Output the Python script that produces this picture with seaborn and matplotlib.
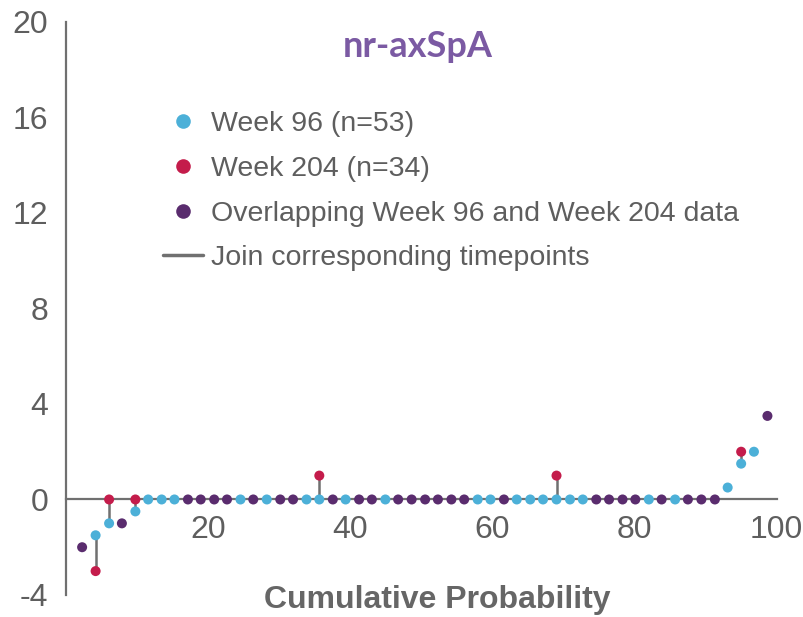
import numpy as np
import pandas as pd
import matplotlib
matplotlib.use("Agg")
import matplotlib.pyplot as plt
from matplotlib.lines import Line2D
import seaborn as sns

# Cumulative probability (%) of each ranked patient
cum_prob = [2.2, 4.1, 6.0, 7.8, 9.7, 11.5, 13.4, 15.2, 17.1, 18.9,
            20.8, 22.6, 24.5, 26.3, 28.2, 30.1, 31.9, 33.8, 35.6, 37.5,
            39.3, 41.2, 43.0, 44.9, 46.7, 48.6, 50.5, 52.3, 54.2, 56.0,
            57.9, 59.7, 61.6, 63.4, 65.3, 67.1, 69.0, 70.9, 72.7, 74.6,
            76.4, 78.3, 80.1, 82.0, 83.8, 85.7, 87.5, 89.4, 91.3, 93.1,
            95.0, 96.8, 98.7]

# Change from baseline at Week 96 (n=53)
week96 = [-2, -1.5, -1, -1, -0.5, 0, 0, 0, 0, 0,
          0, 0, 0, 0, 0, 0, 0, 0, 0, 0,
          0, 0, 0, 0, 0, 0, 0, 0, 0, 0,
          0, 0, 0, 0, 0, 0, 0, 0, 0, 0,
          0, 0, 0, 0, 0, 0, 0, 0, 0, 0.5,
          1.5, 2, 3.5]

# Change from baseline at Week 204 (n=34); NaN where not available
nan = np.nan
week204 = [-2, -3, 0, -1, 0, nan, nan, nan, 0, 0,
           0, 0, nan, 0, nan, 0, 0, nan, 1, 0,
           nan, 0, 0, nan, 0, 0, 0, 0, 0, 0,
           nan, nan, 0, nan, nan, nan, 1, nan, nan, 0,
           0, 0, 0, nan, 0, nan, 0, 0, 0, nan,
           2, nan, 3.5]

labels = ["Week 96 (n=53)", "Week 204 (n=34)",
          "Overlapping Week 96 and Week 204 data",
          "Join corresponding timepoints"]
colors = {"w96": "#4cb0d8", "w204": "#c41c4b", "both": "#5a2c6e"}
line_gray = "#707070"
text_gray = "#5e5e5e"

# Build a long table of plotted points
rows = []
for x, a, b in zip(cum_prob, week96, week204):
    if not np.isnan(b) and a == b:
        rows.append((x, a, "both"))
    else:
        rows.append((x, a, "w96"))
        if not np.isnan(b):
            rows.append((x, b, "w204"))
df = pd.DataFrame(rows, columns=["cum_prob", "change", "group"])

sns.set_style("white")
plt.rcParams["font.family"] = ["Liberation Sans", "DejaVu Sans"]
plt.rcParams["axes.unicode_minus"] = False

fig = plt.figure(figsize=(8.04, 6.17), dpi=100)
ax = fig.add_axes([0.0827, 0.0357, 0.8833, 0.9287])

# Vertical segments joining the two timepoints of the same patient
for x, a, b in zip(cum_prob, week96, week204):
    if not np.isnan(b) and a != b:
        ax.plot([x, x], [a, b], color=line_gray, lw=1.8, zorder=2,
                solid_capstyle="butt")

sns.scatterplot(data=df, x="cum_prob", y="change", hue="group",
                palette=colors, s=52, edgecolor="none", legend=False,
                zorder=3, ax=ax)

ax.set_xlim(0, 100)
ax.set_ylim(-4, 20)
ax.set_xticks([20, 40, 60, 80, 100])
ax.set_yticks([-4, 0, 4, 8, 12, 16, 20])
ax.set_xlabel("")
ax.set_ylabel("")

for side in ["top", "right"]:
    ax.spines[side].set_visible(False)
ax.spines["bottom"].set_position(("data", 0))
ax.spines["bottom"].set_bounds(0, 100)
ax.spines["left"].set_bounds(-4, 20)
for side in ["bottom", "left"]:
    ax.spines[side].set_color(line_gray)
    ax.spines[side].set_linewidth(1.6)
    ax.spines[side].set_zorder(1)

ax.tick_params(axis="x", direction="out", length=8, width=1.6,
               color=line_gray, labelsize=23, labelcolor=text_gray, pad=3)
ax.tick_params(axis="y", direction="out", length=7, width=1.6,
               color=line_gray, labelsize=23, labelcolor=text_gray, pad=6)
ax.set_facecolor("white")

fig.text(0.5435, 0.027, "Cumulative Probability", ha="center", va="center",
         fontsize=23, fontweight="bold", color="#666666")
fig.text(0.52, 0.925, "nr-axSpA", ha="center", va="center",
         fontsize=26, fontweight="bold", color="#7b5aa3",
         family=["Lato", "DejaVu Sans"])

handles = [
    Line2D([], [], ls="none", marker="o", ms=10.5, mec="none", color=colors["w96"]),
    Line2D([], [], ls="none", marker="o", ms=10.5, mec="none", color=colors["w204"]),
    Line2D([], [], ls="none", marker="o", ms=10.5, mec="none", color=colors["both"]),
    Line2D([], [], color=line_gray, lw=2.5),
]
leg = ax.legend(handles, labels, loc="upper left",
                bbox_to_anchor=(163 / 804, 1 - 111 / 617),
                bbox_transform=fig.transFigure, frameon=False,
                fontsize=20.5, handlelength=1.42, handletextpad=0.28,
                labelspacing=0.66, borderpad=0, borderaxespad=0)
for t in leg.get_texts():
    t.set_color(text_gray)

fig.savefig("out.png", dpi=100, facecolor="white")
